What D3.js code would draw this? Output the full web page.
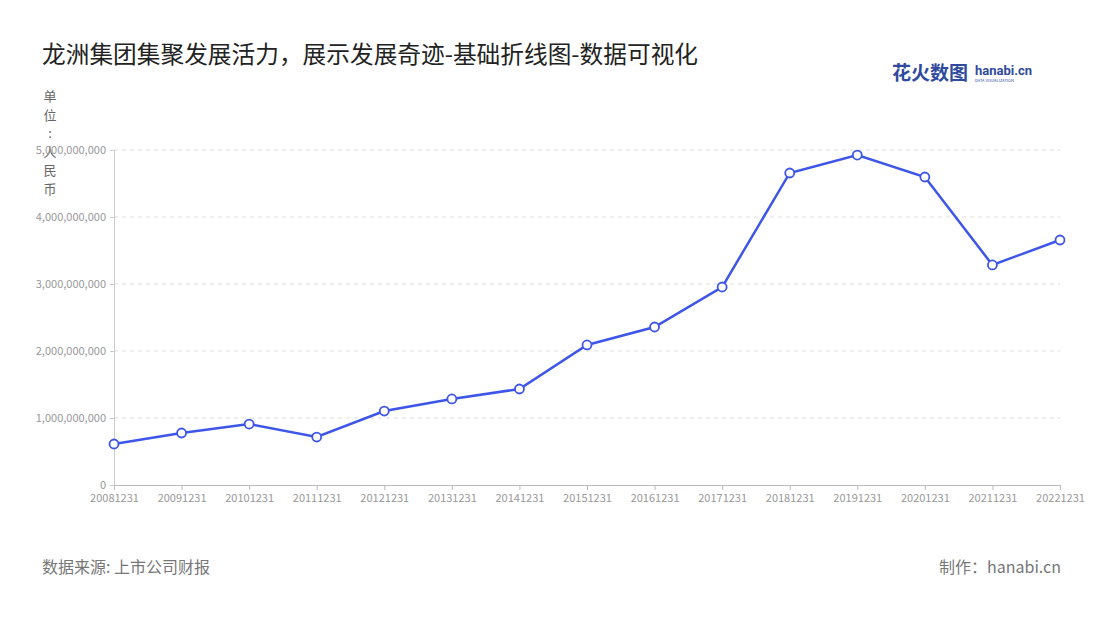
<!DOCTYPE html>
<html><head><meta charset="utf-8">
<script src="https://cdn.jsdelivr.net/npm/d3@7/dist/d3.min.js"></script>
<style>body{margin:0;background:#fff;font-family:"Noto Sans CJK SC","Noto Sans",sans-serif}</style>
</head><body><svg id="c" width="1100" height="620"></svg>
<script>
const categories=["20081231","20091231","20101231","20111231","20121231","20131231","20141231","20151231","20161231","20171231","20181231","20191231","20201231","20211231","20221231"];
const values=[612e6,776e6,910e6,716e6,1104e6,1284e6,1433e6,2090e6,2358e6,2955e6,4657e6,4925e6,4597e6,3284e6,3657e6];
const yTicks=[0,1e9,2e9,3e9,4e9,5e9];
const svg=d3.select("#c");
const x=d3.scalePoint().domain(categories).range([114,1060]);
const y=d3.scaleLinear().domain([0,5e9]).range([485,150]);
const f="'Noto Sans CJK SC',sans-serif";
svg.append("text").attr("x",42).attr("y",63).attr("font-size",23.7).attr("fill","#222").attr("font-family",f).text("龙洲集团集聚发展活力，展示发展奇迹-基础折线图-数据可视化");
svg.append("text").attr("x",892).attr("y",80).attr("font-size",19).attr("font-weight","bold").attr("fill","#2f4a9e").attr("font-family",f).text("花火数图");
svg.append("text").attr("x",975).attr("y",75).attr("font-size",13).attr("font-weight","bold").attr("fill","#2f4a9e").attr("font-family","Roboto").text("hanabi.cn");
svg.append("text").attr("x",975).attr("y",82).attr("font-size",4).attr("fill","#2f4a9e").text("DATA VISUALIZATION");
const lab="单位：人民币".split("");
lab.forEach((c,i)=>svg.append("text").attr("x",50).attr("y",101+i*18.5).attr("text-anchor","middle").attr("font-size",13).attr("fill","#666").attr("font-family",f).text(c==="："?":":c));
svg.append("g").selectAll("line").data(yTicks.slice(1)).join("line").attr("x1",114).attr("x2",1060).attr("y1",d=>y(d)).attr("y2",d=>y(d)).attr("stroke","#ddd").attr("stroke-dasharray","4,4");
const ya=svg.append("g").attr("transform","translate(114,0)").call(d3.axisLeft(y).tickValues(yTicks).tickFormat(d3.format(",")).tickSize(4).tickPadding(4));
ya.select(".domain").attr("stroke","#ccc");ya.selectAll("line").attr("stroke","#ccc");ya.selectAll("text").attr("fill","#999").attr("font-size",11).attr("font-family",f);
const xa=svg.append("g").attr("transform","translate(0,485)").call(d3.axisBottom(x).tickSize(5).tickPadding(4));
xa.select(".domain").attr("stroke","#bbb");xa.selectAll("line").attr("stroke","#bbb");xa.selectAll("text").attr("fill","#999").attr("font-size",11).attr("font-family",f);
const pts=categories.map((c,i)=>[x(c),y(values[i])]);
svg.append("path").attr("d",d3.line()(pts)).attr("fill","none").attr("stroke","#3d55e8").attr("stroke-width",2.5);
svg.append("g").selectAll("circle").data(pts).join("circle").attr("cx",d=>d[0]).attr("cy",d=>d[1]).attr("r",4.5).attr("fill","#fff").attr("stroke","#3d55e8").attr("stroke-width",1.8);
svg.append("text").attr("x",42).attr("y",573).attr("font-size",16).attr("fill","#777").attr("font-family",f).text("数据来源: 上市公司财报");
svg.append("text").attr("x",1061).attr("y",573).attr("text-anchor","end").attr("font-size",16).attr("fill","#777").attr("font-family",f).text("制作：hanabi.cn");
</script></body></html>
